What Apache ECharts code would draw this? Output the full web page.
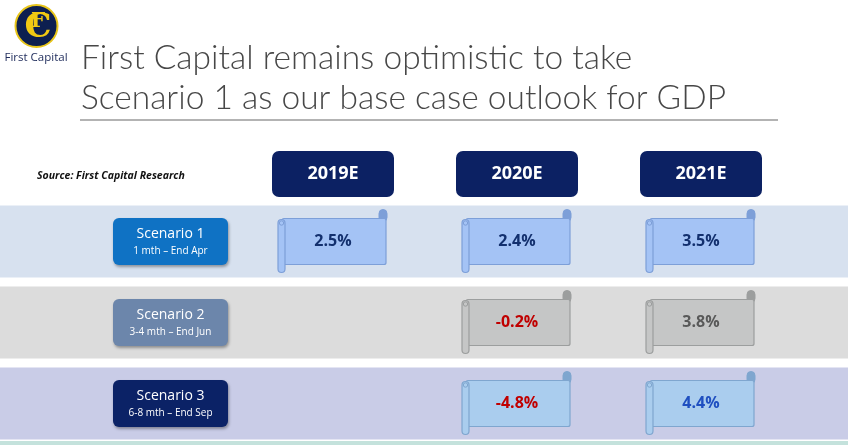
<!DOCTYPE html>
<html>
<head>
<meta charset="utf-8">
<script src="https://cdn.jsdelivr.net/npm/echarts@6/dist/echarts.min.js"></script>
<style>
  html, body { margin: 0; padding: 0; background: #fff; }
  #main { width: 848px; height: 445px; }
</style>
</head>
<body>
<div id="main"></div>
<script>
// column headers and row labels
var years = ['2019E', '2020E', '2021E'];
var scenarios = ['Scenario 1', 'Scenario 2', 'Scenario 3'];
var periods = ['1 mth – End Apr', '3-4 mth – End Jun', '6-8 mth – End Sep'];

// GDP growth forecasts (%), null = no value shown
var scenario1 = [2.5, 2.4, 3.5];
var scenario2 = [null, -0.2, 3.8];
var scenario3 = [null, -4.8, 4.4];

var rowValues = [scenario1, scenario2, scenario3];

// look of each row
var bandColors = ['#d7e1ef', '#dcdcdc', '#c9cce7'];
var boxColors = ['#0f72c4', '#6c86ab', '#0b2266'];
var scrollFill = ['#a4c3f5', '#c5c6c6', '#aacdee'];
var scrollStroke = ['#7d9fd8', '#9c9e9e', '#7fa6cf'];
var posColors = ['#13306e', '#595959', '#1f4fc0'];
var negColor = '#c00000';

var cells = [];
rowValues.forEach(function (row, r) {
    row.forEach(function (v, c) {
        if (v !== null) cells.push([c, r, v]);
    });
});

var myChart = echarts.init(document.getElementById('main'));

function bandItem(params, api) {
    var r = api.value(0);
    var y = api.coord([0, r])[1];
    return {
        type: 'rect',
        shape: { x: 0, y: y - 36, width: api.getWidth(), height: 72 },
        style: { fill: bandColors[r] }
    };
}

function scrollItem(params, api) {
    var c = api.value(0), r = api.value(1), v = api.value(2);
    var p = api.coord([c, r]);
    var cx = p[0], cy = p[1];
    var fill = scrollFill[r], stroke = scrollStroke[r];
    return {
        type: 'group',
        children: [
            {   // top right curl
                type: 'rect',
                shape: { x: cx + 46, y: cy - 32, width: 8, height: 12, r: 4 },
                style: { fill: stroke, stroke: stroke, lineWidth: 1 }
            },
            {   // body
                type: 'rect',
                shape: { x: cx - 51, y: cy - 23, width: 104, height: 46, r: 2 },
                style: { fill: fill, stroke: stroke, lineWidth: 1.2 }
            },
            {   // left roll
                type: 'rect',
                shape: { x: cx - 55, y: cy - 22, width: 7, height: 53, r: 3.5 },
                style: { fill: fill, stroke: stroke, lineWidth: 1.2 }
            },
            {
                type: 'circle',
                shape: { cx: cx - 51.5, cy: cy - 18.5, r: 2.2 },
                style: { fill: 'none', stroke: stroke, lineWidth: 1 }
            },
            {
                type: 'text',
                x: cx, y: cy,
                style: {
                    text: v.toFixed(1) + '%',
                    fill: v < 0 ? negColor : posColors[r],
                    font: 'bold 16px "Open Sans", sans-serif',
                    align: 'center',
                    verticalAlign: 'middle'
                }
            }
        ]
    };
}

myChart.setOption({
    animation: false,
    title: {
        text: 'First Capital remains optimistic to take\nScenario 1 as our base case outlook for GDP',
        left: 76,
        top: 33,
        textStyle: {
            fontFamily: 'Lato',
            fontWeight: 300,
            fontSize: 33.5,
            lineHeight: 40,
            color: '#474747'
        }
    },
    graphic: [
        {   // logo
            type: 'circle', shape: { cx: 36.5, cy: 26, r: 21 },
            style: { fill: '#0d1f50', stroke: '#e8c51a', lineWidth: 2 }, z: 10
        },
        {
            type: 'text', x: 38, y: 28,
            style: { text: 'C', font: 'bold 34px "DejaVu Serif", serif', fill: '#f1c913', align: 'center', verticalAlign: 'middle' }, z: 11
        },
        {
            type: 'text', x: 38, y: 22,
            style: { text: 'F', font: 'bold 20px "DejaVu Serif", serif', fill: '#f1c913', align: 'center', verticalAlign: 'middle' }, z: 12
        },
        {
            type: 'text', x: 36, y: 58,
            style: { text: 'First Capital', font: '11.5px "Open Sans", sans-serif', fill: '#1d2a5a', align: 'center', verticalAlign: 'middle' }
        },
        {   // title rule
            type: 'line', shape: { x1: 80, y1: 120, x2: 778, y2: 120 },
            style: { stroke: '#9a9a9a', lineWidth: 1.5 }
        },
        {
            type: 'text', x: 37, y: 176,
            style: { text: 'Source: First Capital Research', font: 'italic bold 10.5px "Open Sans", sans-serif', fill: '#111', verticalAlign: 'middle' }
        },
        {   // target icon
            type: 'group', z: 10,
            children: [
                { type: 'circle', shape: { cx: 49, cy: 242, r: 21 }, style: { fill: 'none', stroke: '#6aab47', lineWidth: 5 } },
                { type: 'circle', shape: { cx: 49, cy: 242, r: 11.5 }, style: { fill: 'none', stroke: '#6aab47', lineWidth: 4 } },
                { type: 'circle', shape: { cx: 49, cy: 242, r: 5 }, style: { fill: '#6aab47' } },
                { type: 'line', shape: { x1: 49, y1: 242, x2: 68, y2: 223 }, style: { stroke: '#6aab47', lineWidth: 3.5 } },
                { type: 'polygon', shape: { points: [[62, 222], [70, 214], [76, 213], [75, 219], [67, 227]] }, style: { fill: '#6aab47' } }
            ]
        },
        {   // bottom strip
            type: 'rect', shape: { x: 0, y: 441, width: 848, height: 4 },
            style: { fill: '#c4e2dc' }
        }
    ],
    grid: { left: 241, right: 55, top: 201, height: 243 },
    xAxis: {
        type: 'category',
        position: 'top',
        data: years,
        z: 5,
        axisLine: { show: false },
        axisTick: { show: false },
        splitLine: { show: false },
        axisLabel: {
            margin: 4,
            color: '#fff',
            fontFamily: '"Open Sans", sans-serif',
            fontWeight: 'bold',
            fontSize: 18,
            backgroundColor: '#0c2163',
            borderRadius: 7,
            width: 122,
            align: 'center',
            lineHeight: 22,
            padding: [12, 0, 12, 0]
        }
    },
    yAxis: {
        type: 'category',
        inverse: true,
        z: 5,
        data: scenarios.map(function (s, i) {
            return { value: s, textStyle: { backgroundColor: boxColors[i] } };
        }),
        axisLine: { show: false },
        axisTick: { show: false },
        splitLine: { show: false },
        axisLabel: {
            margin: 13,
            width: 115,
            borderRadius: 6,
            padding: [7, 0, 7, 0],
            shadowColor: 'rgba(0,0,0,0.35)',
            shadowBlur: 3,
            shadowOffsetX: 1,
            shadowOffsetY: 2,
            formatter: function (value, idx) {
                return '{a|' + value + '}\n{b|' + periods[idx] + '}';
            },
            rich: {
                a: { color: '#fff', fontFamily: '"Open Sans", sans-serif', fontSize: 14, lineHeight: 19, align: 'center' },
                b: { color: '#fff', fontFamily: '"Open Sans", sans-serif', fontSize: 10, lineHeight: 14, align: 'center' }
            }
        }
    },
    series: [
        {
            name: 'bands',
            type: 'custom',
            z: 1,
            silent: true,
            renderItem: bandItem,
            data: [[0], [1], [2]]
        },
        {
            name: 'GDP',
            type: 'custom',
            z: 3,
            renderItem: scrollItem,
            data: cells
        }
    ]
});

window.onresize = myChart.resize;
</script>
</body>
</html>
